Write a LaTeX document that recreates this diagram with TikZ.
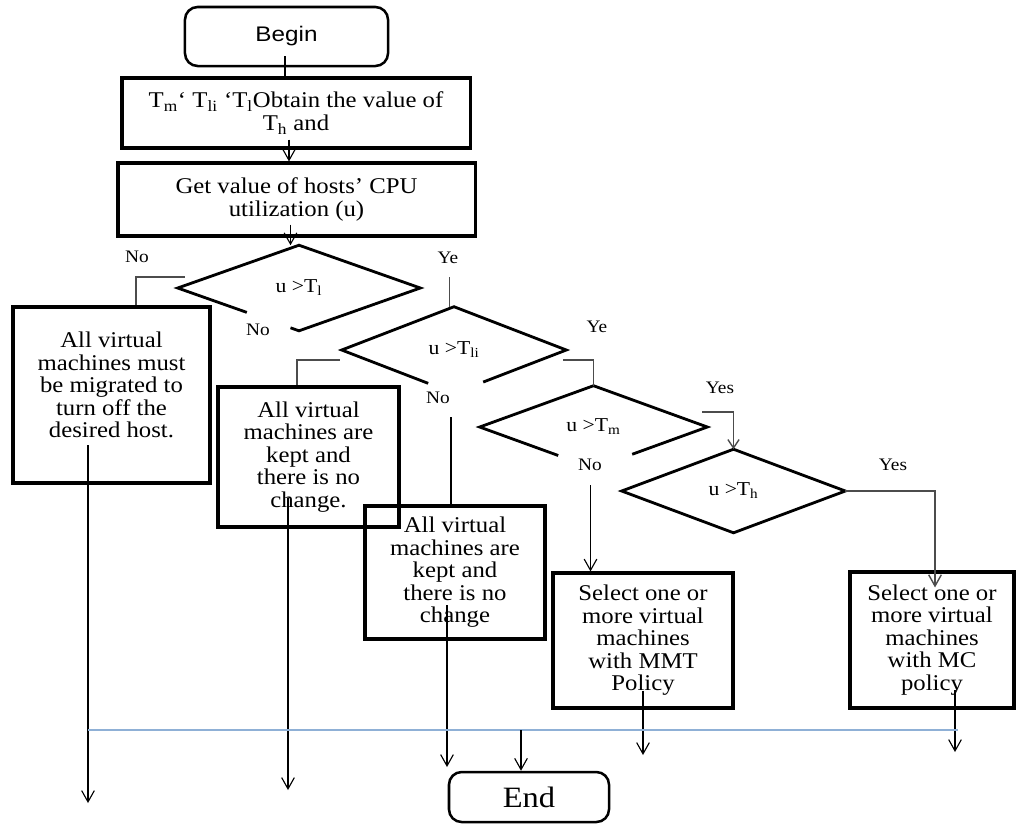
\documentclass[tikz,border=0pt]{standalone}
\usepackage{fontspec}
\setmainfont[FakeStretch=1.1]{Liberation Serif}
\newfontfamily\termfont[FakeStretch=1.15]{Liberation Sans}
\definecolor{busblue}{RGB}{143,176,214}
\usetikzlibrary{arrows.meta,positioning,shapes.geometric,calc}
\tikzset{
  termbox/.style={draw,line width=1.8pt,rounded corners=9pt,align=center},
  procbox/.style={draw,line width=2.2pt,align=center,inner sep=2pt,
                  font=\fontsize{16}{16}\selectfont},
  decision/.style={diamond,inner sep=0pt,font=\fontsize{14}{16}\selectfont},
  dline/.style={line width=2pt},
  conn/.style={line width=1pt,draw=black!70},
  arr/.style={line width=0.8pt,-{Straight Barb[length=8pt,width=9pt]}},
  answer/.style={inner sep=1pt,font=\fontsize{12.5}{14}\selectfont},
  bus/.style={line width=1.3pt,draw=busblue}
}

\begin{document}
\begin{tikzpicture}[x=0.025cm,y=-0.025cm]
  \useasboundingbox (0,0) rectangle (1016,825);

  % terminals and steps
  \node[termbox,minimum width=5.075cm,minimum height=1.475cm,
        font=\termfont\fontsize{15}{16}\selectfont]
        (begin) at (286.5,36.5) {Begin};
  \node[procbox,minimum width=8.7cm,minimum height=1.75cm]
        (obtain) at (296,113)
        {T\textsubscript{m}‘ T\textsubscript{li} ‘T\textsubscript{l}Obtain the value of\\
         T\textsubscript{h} and};
  \node[procbox,minimum width=8.925cm,minimum height=1.825cm]
        (getu) at (296.5,199.5)
        {Get value of hosts’ CPU\\ utilization (u)};

  % decisions
  \node[decision,minimum width=6.05cm,minimum height=2.125cm]
        (dl) at (299,288) {u >T\textsubscript{l}};
  \node[decision,minimum width=5.6cm,minimum height=2.15cm]
        (dli) at (454,350) {u >T\textsubscript{li}};
  \node[decision,minimum width=5.675cm,minimum height=2.05cm]
        (dm) at (593.5,427) {u >T\textsubscript{m}};
  \node[decision,minimum width=5.575cm,minimum height=2.075cm]
        (dh) at (733.5,491) {u >T\textsubscript{h}};

  \draw[dline] ($(dl.west)!0.93!(dl.south)$) -- (dl.south) -- (dl.east)
        -- (dl.north) -- (dl.west) -- ($(dl.west)!0.57!(dl.south)$);
  \draw[dline] ($(dli.east)!0.74!(dli.south)$) -- (dli.east) -- (dli.north)
        -- (dli.west) -- ($(dli.west)!0.77!(dli.south)$);
  \draw[dline] ($(dm.east)!0.66!(dm.south)$) -- (dm.east) -- (dm.north)
        -- (dm.west) -- ($(dm.west)!0.69!(dm.south)$);
  \draw[dline] (dh.west) -- (dh.north) -- (dh.east) -- (dh.south) -- cycle;

  % outcomes
  \node[procbox,minimum width=4.925cm,minimum height=4.4cm]
        (migrate) at (111.5,395)
        {All virtual\\ machines must\\ be migrated to\\ turn off the\\ desired host.\\[-2pt]\mbox{}};
  \node[procbox,minimum width=4.525cm,minimum height=3.5cm]
        (keepa) at (308.5,457)
        {All virtual\\ machines are\\ kept and\\ there is no\\ change.};
  \node[procbox,minimum width=4.5cm,minimum height=3.325cm]
        (keepb) at (455,572.5)
        {All virtual\\ machines are\\ kept and\\ there is no\\ change};
  \node[procbox,minimum width=4.5cm,minimum height=3.375cm]
        (mmt) at (643,640.5)
        {Select one or\\ more virtual\\ machines\\ with MMT\\ Policy};
  \node[procbox,minimum width=4.1cm,minimum height=3.4cm]
        (mc) at (932,640)
        {Select one or\\ more virtual\\ machines\\ with MC\\ policy};
  \node[termbox,minimum width=4cm,minimum height=1.25cm,
        font=\fontsize{21}{22}\selectfont]
        (end) at (529,797) {End};

  % answers
  \node[answer] (nol)   at (137,257) {No};
  \node[answer] (nol2)  at (258,330) {No};
  \node[answer] (yel)   at (448,258) {Ye};
  \node[answer] (yeli)  at (597,327) {Ye};
  \node[answer] (noli)  at (438,398) {No};
  \node[answer] (yesm)  at (720,388) {Yes};
  \node[answer] (nom)   at (590,465) {No};
  \node[answer] (yesh)  at (893,465) {Yes};

  % flow
  \draw[line width=1pt] let \p1=($(begin.south)+(-1.5,-11)$), \p2=(obtain.north)
        in (\p1) -- (\x1,\y2);
  \draw[arr] let \p1=($(obtain.south)+(-7,-10)$), \p2=(getu.north)
        in (\p1) -- (\x1,\y2);
  \draw[arr] let \p1=($(getu.south)+(-6,-13)$), \p2=(dl.north)
        in (\p1) -- (\x1,\y2);
  \draw[conn] ($(dl.west)+(7,-11)$) -| ($(migrate.north)+(24.5,0)$);
  \draw[conn] let \p1=($(dl.east)+(29,-11)$), \p2=(dli.north)
        in (\p1) -- (\x1,\y2);
  \draw[conn] ($(dli.west)+(-2,10)$) -| ($(keepa.north)+(-11.5,0)$);
  \draw[conn] ($(dli.east)+(-3,10)$) -| (dm.north);
  \draw[line width=1pt] let \p1=($(dli.south)+(-3,24)$), \p2=(keepb.north)
        in (\p1) -- (\x1,\y2);
  \draw[conn,-{Straight Barb[length=6pt,width=8pt]}] ($(dm.east)+(-5,-15)$) -| (dh.north);
  \draw[arr] let \p1=($(dm.south)+(-3,17)$), \p2=(mmt.north)
        in (\p1) -- (\x1,\y2);
  \draw[conn,-{Straight Barb[length=8pt,width=9pt]}] (dh.east) -| ($(mc.north)+(3,17)$);

  % exits
  \coordinate (exmig)  at (88,803);
  \coordinate (exkpa)  at (288,790);
  \coordinate (exkpb)  at (447,767);
  \coordinate (exmmt)  at (643,755);
  \coordinate (exmc)   at (955,752);
  \coordinate (busl)   at (88,730);
  \coordinate (busr)   at (958,730);
  \draw[arr] ($(migrate.center)+(-23.5,50)$) -- (exmig);
  \draw[arr] ($(keepa.center)+(-20.5,41)$) -- (exkpa);
  \draw[arr] ($(keepb.center)+(-8,32.5)$) -- (exkpb);
  \draw[arr] ($(mmt.center)+(0,50)$) -- (exmmt);
  \draw[arr] ($(mc.center)+(23,50)$) -- (exmc);
  \draw[bus] (busl) -- (busr);
  \draw[arr] let \p1=($(end.north)+(-8,0)$), \p2=(busl)
        in (\x1,\y2) -- (\p1);
\end{tikzpicture}
\end{document}
